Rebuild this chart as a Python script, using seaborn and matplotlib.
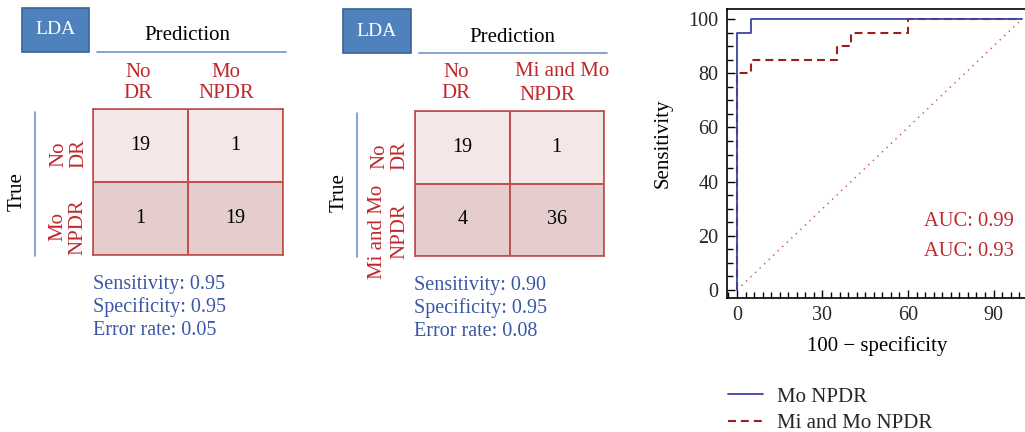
import numpy as np
import pandas as pd
import matplotlib
matplotlib.use("Agg")
import matplotlib.pyplot as plt
from matplotlib.colors import ListedColormap
from matplotlib.patches import Rectangle
from matplotlib.lines import Line2D
from matplotlib.ticker import MultipleLocator
import seaborn as sns

# ---------------- data ----------------
left_pred_labels = ["No\nDR", "Mo\nNPDR"]
left_counts = [[19, 1], [1, 19]]
left_stats = ["Sensitivity: 0.95", "Specificity: 0.95", "Error rate: 0.05"]

mid_counts = [[19, 1], [4, 36]]
mid_stats = ["Sensitivity: 0.90", "Specificity: 0.95", "Error rate: 0.08"]

row_shade = [[0, 0], [1, 1]]

roc_mo_fpr = [0, 0, 5, 5, 100]
roc_mo_tpr = [0, 95, 95, 100, 100]
roc_mimo_fpr = [0, 0, 5, 5, 35, 35, 40, 40, 60, 60, 100]
roc_mimo_tpr = [0, 80, 80, 85, 85, 90, 90, 95, 95, 100, 100]
chance_x = [0, 100]
chance_y = [0, 100]
auc_labels = ["AUC: 0.99", "AUC: 0.93"]
legend_labels = ["Mo NPDR", "Mi and Mo NPDR"]
x_ticks = [0, 30, 60, 90]
y_ticks = [0, 20, 40, 60, 80, 100]

# ---------------- style ----------------
sns.set_theme(style="white")
plt.rcParams["font.family"] = ["Liberation Serif", "DejaVu Serif"]
plt.rcParams["mathtext.fontset"] = "dejavuserif"

RED_TXT = "#c1272d"
GRID_RED = "#c0504d"
BLUE_TXT = "#3a56a6"
LDA_FILL = "#4f81bd"
LDA_EDGE = "#3a6494"
LINE_BLUE = "#6f95c9"
FS = 15

W, H = 1025, 432
fig = plt.figure(figsize=(W / 100, H / 100), dpi=100)


def fx(x):
    return x / W


def fy(y):
    return 1 - y / H


def rect(x0, y0, x1, y1):
    return [x0 / W, 1 - y1 / H, (x1 - x0) / W, (y1 - y0) / H]


def ftext(x, y, s, **kw):
    kw.setdefault("fontsize", FS)
    fig.text(fx(x), fy(y), s, **kw)


def hline(x0, x1, y, color, lw=1.2):
    fig.add_artist(Line2D([fx(x0), fx(x1)], [fy(y), fy(y)], color=color, lw=lw,
                          transform=fig.transFigure))


def vline(x, y0, y1, color, lw=1.2):
    fig.add_artist(Line2D([fx(x), fx(x)], [fy(y0), fy(y1)], color=color, lw=lw,
                          transform=fig.transFigure))


def lda_box(x0, y0, x1, y1):
    fig.add_artist(Rectangle((fx(x0), fy(y1)), (x1 - x0) / W, (y1 - y0) / H,
                             facecolor=LDA_FILL, edgecolor=LDA_EDGE, lw=1.2,
                             transform=fig.transFigure))
    ftext((x0 + x1) / 2, (y0 + y1) / 2, "LDA", color="white", ha="center",
          va="center", fontsize=14)


cmap = ListedColormap(["#f4e7e7", "#e6cdcd"])


def conf_matrix(box, counts):
    ax = fig.add_axes(rect(*box))
    sns.heatmap(np.array(row_shade), annot=np.array(counts), fmt="d", cmap=cmap,
                vmin=0, vmax=1, cbar=False, linewidths=1.2, linecolor=GRID_RED,
                annot_kws={"fontsize": 14.5, "color": "black"}, ax=ax,
                xticklabels=False, yticklabels=False)
    for s in ax.spines.values():
        s.set_visible(True)
        s.set_color(GRID_RED)
        s.set_linewidth(1.2)
    ax.tick_params(length=0)
    return ax


STATS_FS = 14.5
STATS_LS = 1.24

# ---------------- left confusion matrix ----------------
lda_box(22, 8, 89, 52)
ftext(187, 36, "Prediction", ha="center", va="center", color="black")
hline(97, 286, 52, LINE_BLUE)
conf_matrix((93, 109, 283, 255), left_counts)
ftext(138, 83, left_pred_labels[0], ha="center", va="center", color=RED_TXT,
      multialignment="center", linespacing=1.1)
ftext(226, 83, left_pred_labels[1], ha="center", va="center", color=RED_TXT,
      multialignment="center", linespacing=1.1)
ftext(69, 154, left_pred_labels[0], ha="center", va="center", rotation=90,
      color=RED_TXT, multialignment="center", linespacing=1.1)
ftext(68, 227, left_pred_labels[1], ha="center", va="center", rotation=90,
      color=RED_TXT, multialignment="center", linespacing=1.1)
vline(35, 112, 256, LINE_BLUE)
ftext(17, 192, "True", ha="center", va="center", rotation=90, color="black")
ftext(93, 275, "\n".join(left_stats), ha="left", va="top", color=BLUE_TXT,
      linespacing=STATS_LS, fontsize=STATS_FS)

# ---------------- middle confusion matrix ----------------
lda_box(343, 9, 411, 53)
ftext(512, 37, "Prediction", ha="center", va="center", color="black")
hline(419, 607, 53, LINE_BLUE)
conf_matrix((415, 111, 604, 256), mid_counts)
ftext(456, 83, "No\nDR", ha="center", va="center", color=RED_TXT,
      multialignment="center", linespacing=1.1)
ftext(515, 72, "Mi and Mo", ha="left", va="center", color=RED_TXT)
ftext(519, 95, "NPDR", ha="left", va="center", color=RED_TXT)
ftext(390, 156, "No\nDR", ha="center", va="center", rotation=90,
      color=RED_TXT, multialignment="center", linespacing=1.1)
ftext(378, 232, "Mi and Mo", ha="center", va="center", rotation=90, color=RED_TXT)
ftext(400, 231, "NPDR", ha="center", va="center", rotation=90, color=RED_TXT)
vline(357, 113, 257, LINE_BLUE)
ftext(339, 193, "True", ha="center", va="center", rotation=90, color="black")
ftext(414, 276, "\n".join(mid_stats), ha="left", va="top", color=BLUE_TXT,
      linespacing=STATS_LS, fontsize=STATS_FS)

# ---------------- ROC ----------------
ax = fig.add_axes(rect(727, 9, 1040, 298))
sns.lineplot(x=chance_x, y=chance_y, ax=ax, color=GRID_RED, lw=1.0,
             linestyle=(0, (1, 3.5)), sort=False, estimator=None)
sns.lineplot(x=roc_mimo_fpr, y=roc_mimo_tpr, ax=ax, color="#9e1c20", lw=1.5,
             linestyle=(0, (3.8, 2.4)), sort=False, estimator=None,
             label=legend_labels[1])
sns.lineplot(x=roc_mo_fpr, y=roc_mo_tpr, ax=ax, color="#3c44a0", lw=1.3,
             sort=False, estimator=None, label=legend_labels[0])
ax.set_xlim(-3.5, 106.3)
ax.set_ylim(-2.95, 103.7)
ax.set_xticks(x_ticks)
ax.set_yticks(y_ticks)
ax.xaxis.set_minor_locator(MultipleLocator(3))
ax.yaxis.set_minor_locator(MultipleLocator(5))
ax.tick_params(which="both", direction="in", bottom=True, left=True, top=False,
               right=False, color="black", width=1.0, labelsize=14.5)
ax.tick_params(which="major", length=6, pad=6)
ax.tick_params(which="minor", length=4)
for s in ax.spines.values():
    s.set_color("black")
    s.set_linewidth(1.2)
ax.spines["right"].set_visible(False)
ax.set_xlabel("")
ax.set_ylabel("")
ax.set_facecolor("white")
ftext(877, 346, "100 \u2212 specificity", ha="center", va="center", color="black")
ftext(663, 143, "Sensitivity", ha="center", va="center", rotation=90, color="black")
ftext(924, 221, auc_labels[0], ha="left", va="center", color=RED_TXT, fontsize=14.8)
ftext(924, 251, auc_labels[1], ha="left", va="center", color=RED_TXT, fontsize=14.8)

handles, labels = ax.get_legend_handles_labels()
order = [labels.index(l) for l in legend_labels]
ax.legend([handles[i] for i in order], [labels[i] for i in order],
          loc="upper left", bbox_to_anchor=(fx(728), fy(387)),
          bbox_transform=fig.transFigure, frameon=False, fontsize=FS,
          handlelength=1.7, handletextpad=0.65, labelspacing=0.32,
          borderpad=0, borderaxespad=0)

fig.savefig("out.png", dpi=100, facecolor="white")
